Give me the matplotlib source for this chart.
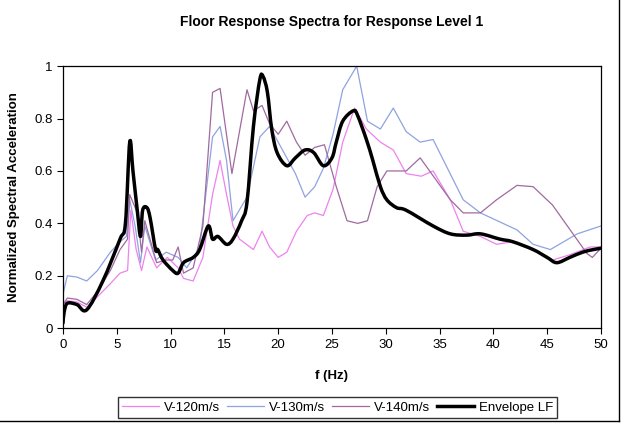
import numpy as np
import matplotlib.pyplot as plt
from matplotlib.lines import Line2D
from matplotlib.path import Path
from matplotlib.patches import PathPatch

plt.rcParams['font.family'] = ['Liberation Sans', 'DejaVu Sans']

# V-120m/s
f_120 = [0, 0.4, 1.3, 2.2, 3.2, 4.4, 5.3, 6.0, 6.3, 6.8, 7.3, 7.8, 8.7, 9.7, 10.7, 11.2,
         12.1, 13.0, 13.9, 14.6, 15.2, 15.8, 16.4, 17.7, 18.5, 19.2, 20.0, 20.8, 21.7,
         22.7, 23.4, 24.2, 25.1, 26.0, 27.1, 28.2, 29.5, 30.7, 31.9, 33.3, 34.4, 36.0,
         37.2, 38.8, 40.3, 41.8, 43.7, 45.5, 47.1, 49.0, 50.0]
a_120 = [0.09, 0.105, 0.10, 0.08, 0.12, 0.17, 0.21, 0.22, 0.45, 0.30, 0.22, 0.31, 0.23,
         0.27, 0.23, 0.19, 0.18, 0.27, 0.51, 0.64, 0.51, 0.39, 0.34, 0.30, 0.37, 0.31,
         0.27, 0.29, 0.37, 0.43, 0.44, 0.43, 0.53, 0.71, 0.84, 0.76, 0.71, 0.68, 0.59,
         0.58, 0.60, 0.49, 0.37, 0.35, 0.32, 0.33, 0.30, 0.26, 0.28, 0.31, 0.31]

# V-130m/s
f_130 = [0, 0.4, 1.3, 2.2, 3.2, 4.4, 5.3, 5.9, 6.2, 6.7, 7.2, 7.6, 8.6, 9.6, 10.7, 11.5,
         12.7, 13.9, 14.6, 15.2, 15.8, 17.1, 18.3, 19.2, 20.4, 21.6, 22.5, 23.4, 24.2,
         25.1, 26.0, 27.3, 28.3, 29.5, 30.7, 31.9, 33.2, 34.4, 37.2, 38.8, 42.2, 43.7,
         45.3, 47.8, 50.0]
a_130 = [0.13, 0.20, 0.195, 0.18, 0.22, 0.29, 0.33, 0.35, 0.49, 0.39, 0.25, 0.39, 0.26,
         0.29, 0.27, 0.23, 0.31, 0.73, 0.77, 0.64, 0.41, 0.50, 0.73, 0.77, 0.68, 0.59,
         0.50, 0.54, 0.61, 0.74, 0.91, 1.00, 0.79, 0.76, 0.84, 0.75, 0.71, 0.72, 0.49,
         0.44, 0.375, 0.32, 0.30, 0.36, 0.39]

# V-140m/s
f_140 = [0, 0.4, 1.3, 2.2, 3.2, 4.4, 5.3, 6.0, 6.2, 6.9, 7.3, 7.6, 8.7, 9.6, 10.2, 10.7,
         11.2, 12.1, 13.0, 13.9, 14.6, 15.7, 17.1, 17.7, 18.5, 19.2, 20.0, 20.8, 21.7,
         22.5, 23.4, 24.3, 25.4, 26.4, 27.4, 28.3, 29.2, 30.1, 31.3, 31.9, 33.2, 36.0,
         37.2, 38.8, 40.3, 42.2, 43.7, 45.5, 48.7, 49.2, 50.0]
a_140 = [0.09, 0.115, 0.11, 0.09, 0.14, 0.22, 0.30, 0.34, 0.51, 0.44, 0.29, 0.41, 0.25,
         0.26, 0.26, 0.31, 0.21, 0.23, 0.39, 0.90, 0.915, 0.59, 0.91, 0.83, 0.85, 0.78,
         0.74, 0.79, 0.71, 0.66, 0.69, 0.70, 0.54, 0.41, 0.40, 0.41, 0.54, 0.60, 0.60,
         0.60, 0.65, 0.49, 0.44, 0.44, 0.49, 0.545, 0.54, 0.47, 0.285, 0.27, 0.305]

# Envelope LF
f_env = [0, 0.1, 0.4, 1.3, 2.2, 3.7, 5.3, 5.8, 6.2, 6.5, 6.9, 7.2, 7.4, 7.8, 8.1, 8.6,
         8.8, 9.3, 10.2, 10.7, 11.2, 12.1, 12.7, 13.5, 13.9, 14.4, 15.2, 15.8, 16.6,
         17.1, 17.7, 18.3, 18.6, 19.0, 19.4, 19.9, 20.8, 21.6, 22.5, 23.3, 24.2, 25.0,
         25.4, 26.0, 27.0, 27.4, 28.2, 28.8, 29.5, 30.1, 31.0, 31.9, 34.4, 36.0, 37.5,
         38.8, 40.6, 41.8, 43.7, 45.0, 45.9, 47.1, 48.3, 49.3, 50.0]
a_env = [0.02, 0.06, 0.095, 0.09, 0.07, 0.18, 0.34, 0.40, 0.71, 0.60, 0.45, 0.35, 0.45,
         0.46, 0.42, 0.30, 0.30, 0.26, 0.22, 0.21, 0.25, 0.27, 0.30, 0.39, 0.34, 0.35,
         0.32, 0.34, 0.41, 0.48, 0.77, 0.95, 0.96, 0.90, 0.76, 0.67, 0.62, 0.65, 0.68,
         0.67, 0.62, 0.65, 0.71, 0.79, 0.83, 0.81, 0.72, 0.64, 0.54, 0.49, 0.46, 0.45,
         0.39, 0.36, 0.355, 0.36, 0.34, 0.33, 0.30, 0.27, 0.25, 0.27, 0.29, 0.30, 0.305]


def smooth_path(xs, ys):
  # Excel-style smoothed line: cubic Bezier segments through every point
  p = np.column_stack([xs, ys])
  verts = [p[0]]
  codes = [Path.MOVETO]
  n = len(p)
  for i in range(n - 1):
    p0 = p[max(i - 1, 0)]
    p1, p2 = p[i], p[i + 1]
    p3 = p[min(i + 2, n - 1)]
    verts += [p1 + (p2 - p0) / 6, p2 - (p3 - p1) / 6, p2]
    codes += [Path.CURVE4] * 3
  return Path(verts, codes)


fig = plt.figure(figsize=(6.24, 4.24), dpi=100)
ax = fig.add_axes([0.101, 0.226, 0.862, 0.618])

ax.plot(f_120, a_120, color='#EE82EE', lw=0.9, label='V-120m/s')
ax.plot(f_130, a_130, color='#8FA3E0', lw=0.9, label='V-130m/s')
ax.plot(f_140, a_140, color='#A06AA0', lw=0.9, label='V-140m/s')
ax.add_patch(PathPatch(smooth_path(f_env, a_env), fill=False, edgecolor='black',
                       lw=2.5, joinstyle='round', capstyle='round', zorder=3))
ax.plot([], [], color='black', lw=2.5, label='Envelope LF')

ax.set_xlim(0, 50)
ax.set_ylim(0, 1)
ax.set_xticks(range(0, 51, 5))
ax.set_yticks([0, 0.2, 0.4, 0.6, 0.8, 1])
ax.set_yticklabels(['0', '0.2', '0.4', '0.6', '0.8', '1'])
ax.tick_params(direction='out', length=4, labelsize=9.5)
for s in ax.spines.values():
  s.set_linewidth(0.9)

ax.set_title('Floor Response Spectra for Response Level 1', fontsize=10, fontweight='bold', pad=29)
ax.set_xlabel('f (Hz)', fontsize=9.5, fontweight='bold', labelpad=14)
ax.set_ylabel('Normalized Spectral Acceleration', fontsize=9.5, fontweight='bold', labelpad=10)

fig.legend(loc='center', bbox_to_anchor=(0.541, 0.039), ncol=4, fontsize=9.5,
           frameon=True, fancybox=False, edgecolor='black', borderpad=0.3,
           handlelength=2.8, columnspacing=0.5, handletextpad=0.4)

# outer chart border (right and bottom edges visible)
fig.add_artist(Line2D([0.992, 0.992], [0.007, 1], color='black', lw=1, transform=fig.transFigure))
fig.add_artist(Line2D([0, 0.992], [0.007, 0.007], color='black', lw=1, transform=fig.transFigure))

fig.savefig('out.png', dpi=100)
